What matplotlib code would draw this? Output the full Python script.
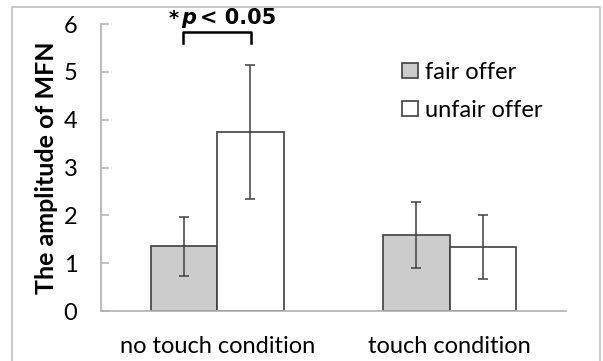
import numpy as np
import matplotlib
matplotlib.use('Agg')
import matplotlib.pyplot as plt
from matplotlib.patches import Rectangle

# data
conditions = ['no touch condition', 'touch condition']
fair_mean = [1.35, 1.58]
fair_err = [0.61, 0.69]
unfair_mean = [3.74, 1.34]
unfair_err = [1.40, 0.67]
yticks = [0, 1, 2, 3, 4, 5, 6]

plt.rcParams['font.family'] = ['Lato', 'DejaVu Sans']

fig = plt.figure(figsize=(6.03, 3.61), dpi=100)
ax = fig.add_axes([0.1675, 0.1385, 0.771, 0.795])

# light frame around the whole figure
fig.patches.append(Rectangle((12 / 603, -0.2), 588 / 603, 1.2 - 7 / 361,
                             transform=fig.transFigure, fill=False,
                             edgecolor='#c0c0c0', linewidth=1.2))

x = np.arange(len(conditions))
w = 0.286
ekw = dict(ecolor='#404040', elinewidth=1.1, capsize=3.6, capthick=1.1)
ax.bar(x - w / 2, fair_mean, w, yerr=fair_err, color='#cccccc',
       edgecolor='#404040', linewidth=1.2, error_kw=ekw, label='fair offer')
ax.bar(x + w / 2, unfair_mean, w, yerr=unfair_err, color='white',
       edgecolor='#404040', linewidth=1.2, error_kw=ekw, label='unfair offer')

ax.set_xlim(-0.5, 1.5)
ax.set_ylim(0, 6)
ax.set_yticks(yticks)
ax.set_xticks(x)
ax.set_xticklabels(conditions, fontsize=17)
ax.tick_params(axis='y', direction='in', length=6, width=1.1,
               color='#b0b0b0', labelsize=17, pad=17)
ax.tick_params(axis='x', length=0, pad=18)
for s in ['top', 'right']:
    ax.spines[s].set_visible(False)
for s in ['left', 'bottom']:
    ax.spines[s].set_color('#b0b0b0')
    ax.spines[s].set_linewidth(1.2)

ax.set_ylabel('The amplitude of MFN', fontsize=18, fontweight='bold',
              labelpad=4)

# significance bracket
ax.plot([-0.146, -0.146, 0.146, 0.146], [5.61, 5.84, 5.84, 5.61],
        color='black', linewidth=1.8, clip_on=False)
ty = 5.92
ax.text(-0.21, ty, '*', ha='left', va='bottom', fontsize=14,
        fontweight='bold', family='DejaVu Sans')
ax.text(-0.155, ty, 'p', ha='left', va='bottom', fontsize=15,
        fontweight='bold', style='italic', family='DejaVu Sans')
ax.text(-0.075, ty, '< 0.05', ha='left', va='bottom', fontsize=15,
        fontweight='bold', family='DejaVu Sans')

ax.legend(loc='upper left', bbox_to_anchor=(0.627, 0.9), frameon=False,
          fontsize=17, handlelength=0.68, handleheight=0.6,
          handletextpad=0.3, labelspacing=0.7, borderaxespad=0)

fig.savefig('out.png', dpi=100)
